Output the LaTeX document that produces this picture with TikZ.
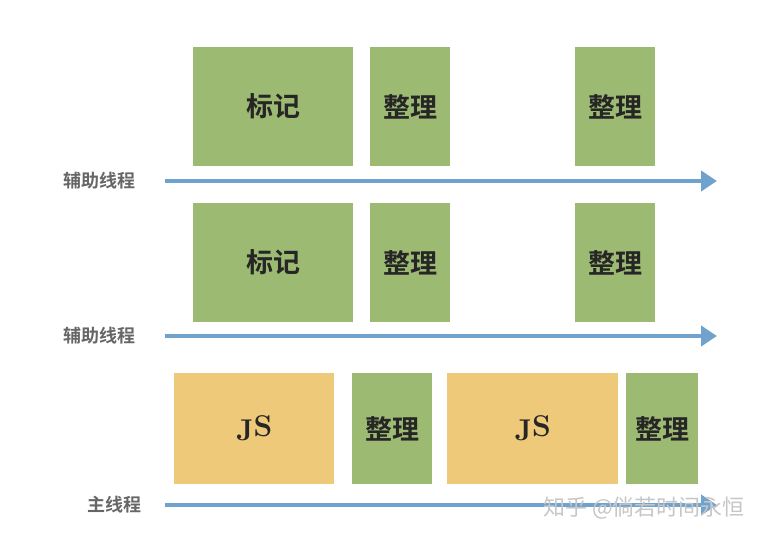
\documentclass[tikz,border=0pt]{standalone}
\usepackage{fontspec}
\newfontfamily\cjk{Noto Sans CJK SC}
\newfontfamily\cjkb{Noto Sans CJK SC Bold}
\usetikzlibrary{arrows.meta}
\definecolor{gbox}{HTML}{9DBA72}
\definecolor{ybox}{HTML}{EFC97A}
\definecolor{arr}{HTML}{6FA3CD}
\tikzset{x=1pt,y=-1pt,
 blk/.style={anchor=north west,inner sep=0pt},
 btxt/.style={font=\cjkb\fontsize{27}{27}\selectfont,text=black!85},
 lab/.style={font=\cjkb\fontsize{18}{18}\selectfont,text=black!60},
 tl/.style={arr,line width=4pt,-{Triangle[length=16pt,width=20pt]}}}
\begin{document}
\begin{tikzpicture}
\useasboundingbox[fill=white] (0,0) rectangle (766,540);
\foreach \n/\c/\a/\b/\cc/\d/\t in {
 a/gbox/193/47/353/166/标记, b/gbox/370/47/450/166/整理, c/gbox/575/47/655/166/整理,
 d/gbox/193/203/353/322/标记, e/gbox/370/203/450/322/整理, f/gbox/575/203/655/322/整理,
 h/gbox/352/373/432/484/整理, k/gbox/626/373/698/484/整理}
 {\node[blk,fill=\c,minimum width=\cc-\a,minimum height=\d-\b] (\n) at (\a,\b) {};
  \node[btxt] at (\n.center) {\t};}
\foreach \n/\a/\b/\cc/\d in {g/174/373/334/484, j/447/373/618/484}
 {\node[blk,fill=ybox,minimum width=\cc-\a,minimum height=\d-\b] (\n) at (\a,\b) {};
  \node[font=\bfseries\fontsize{30}{30}\selectfont,text=black!85] at (\n.center) {J\raisebox{4pt}{S}};}
\node[lab] (l1) at (99,181) {辅助线程};
\node[lab] (l2) at (99,336) {辅助线程};
\node[lab] (l3) at (114,505) {主线程};
\coordinate (s1) at (165,181); \coordinate (e1) at (717,181);
\coordinate (s2) at (165,336); \coordinate (e2) at (717,336);
\coordinate (s3) at (165,505); \coordinate (e3) at (717,505);
\draw[tl] (s1) -- (e1);
\draw[tl] (s2) -- (e2);
\draw[tl] (s3) -- (e3);
\node[font=\cjk\fontsize{22}{22}\selectfont,text=black!22] (w) at (644,508) {知乎 @倘若时间永恒};
\end{tikzpicture}
\end{document}
